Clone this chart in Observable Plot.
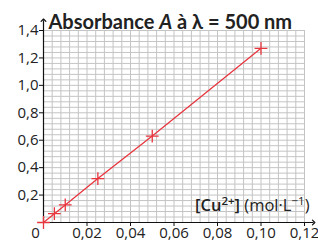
<!DOCTYPE html>
<html><head><meta charset="utf-8">
<script src="https://cdn.jsdelivr.net/npm/d3@7"></script>
<script src="https://cdn.jsdelivr.net/npm/@observablehq/plot@0.6"></script>
<style>body{margin:0;background:#fff;} #chart{width:318px;height:246px;}</style>
</head><body><div id="chart"></div>
<script>
const concentration = [0, 0.005, 0.01, 0.025, 0.05, 0.1];
const absorbance = [0, 0.064, 0.128, 0.32, 0.63, 1.27];
const xTicks = [0.02, 0.04, 0.06, 0.08, 0.10, 0.12];
const xTickLabels = ["0,02", "0,04", "0,06", "0,08", "0,10", "0,12"];
const yTicks = [0.2, 0.4, 0.6, 0.8, 1.0, 1.2, 1.4];
const yTickLabels = ["0,2", "0,4", "0,6", "0,8", "1,0", "1,2", "1,4"];
const titleText = "Absorbance A à λ = 500 nm";
const xLabelText = "[Cu2+] (mol·L−1)";

const data = concentration.map((c, i) => ({c, a: absorbance[i]}));
const xMinor = d3.range(31).map(i => i * 0.004);
const yMinor = d3.range(36).map(i => i * 0.04);
const red = "#e8363f";
const grid = "#c4c4c4";

const plot = Plot.plot({
  width: 318, height: 246,
  marginLeft: 43, marginRight: 14, marginTop: 30, marginBottom: 24,
  style: {fontFamily: "Open Sans", fontSize: "15px", color: "#222", background: "#fff"},
  x: {domain: [0, 0.12]},
  y: {domain: [0, 1.4]},
  marks: [
    Plot.ruleX(xMinor, {stroke: grid, strokeWidth: 1}),
    Plot.ruleY(yMinor, {stroke: grid, strokeWidth: 1}),
    Plot.axisX({ticks: xTicks, tickFormat: d => xTickLabels[xTicks.indexOf(d)], tickSize: 4, tickPadding: 1, label: null, fontSize: 15, stroke: "#111"}),
    Plot.axisY({ticks: yTicks, tickFormat: d => yTickLabels[yTicks.indexOf(d)], tickSize: 4, tickPadding: 1, label: null, fontSize: 15, stroke: "#111"}),
    Plot.text([0], {x: d => d, y: d => d, text: () => "0", dx: -8, dy: 11, fontSize: 15, fill: "#222"}),
    Plot.link([{x1: 0, y1: 0, x2: 0, y2: 1.475}], {x1: "x1", y1: "y1", x2: "x2", y2: "y2", stroke: "#111", strokeWidth: 1.2, markerEnd: "arrow"}),
    Plot.link([{x1: 0, y1: 0, x2: 0.1242, y2: 0}], {x1: "x1", y1: "y1", x2: "x2", y2: "y2", stroke: "#111", strokeWidth: 1.2, markerEnd: "arrow"}),
    Plot.lineY(data, {x: "c", y: "a", stroke: red, strokeWidth: 1.3}),
    Plot.dot(data, {x: "c", y: "a", symbol: "plus", r: 4.2, stroke: red, strokeWidth: 1.3}),
    Plot.text([titleText], {frameAnchor: "top-left", dx: 5, dy: -2, lineAnchor: "bottom", textAnchor: "start", fontSize: 20, fontWeight: "bold", fontFamily: "Lato", fill: "#222"}),
    Plot.text([xLabelText], {frameAnchor: "bottom-right", dx: 5, dy: -12, lineAnchor: "bottom", textAnchor: "end", fontSize: 16.5, fill: "#222"})
  ]
});
document.getElementById("chart").appendChild(plot);

const findText = s => d3.select(plot).selectAll("text").filter(function() { return this.textContent === s; });

// rich text for title
const t = findText(titleText);
t.text(null);
t.append("tspan").text("Absorbance ");
t.append("tspan").attr("font-style", "italic").text("A");
t.append("tspan").text(" à λ = 500 nm");

// rich text for x label
const xl = findText(xLabelText);
xl.text(null);
xl.append("tspan").attr("font-weight", 600).text("[Cu");
xl.append("tspan").attr("font-weight", 600).attr("font-size", 11.5).attr("dy", -6).text("2+");
xl.append("tspan").attr("font-weight", 600).attr("dy", 6).text("]");
xl.append("tspan").text(" (mol·L");
xl.append("tspan").attr("font-size", 11.5).attr("dy", -6).text("−1");
xl.append("tspan").attr("dy", 6).text(")");
if (xl.node()) {
  const bb = xl.node().getBBox();
  d3.select(xl.node().parentNode).insert("rect", "text")
    .attr("x", bb.x - 2).attr("y", bb.y - 1)
    .attr("width", bb.width + 4).attr("height", bb.height + 2)
    .attr("fill", "#fff");
}
</script>
</body></html>
